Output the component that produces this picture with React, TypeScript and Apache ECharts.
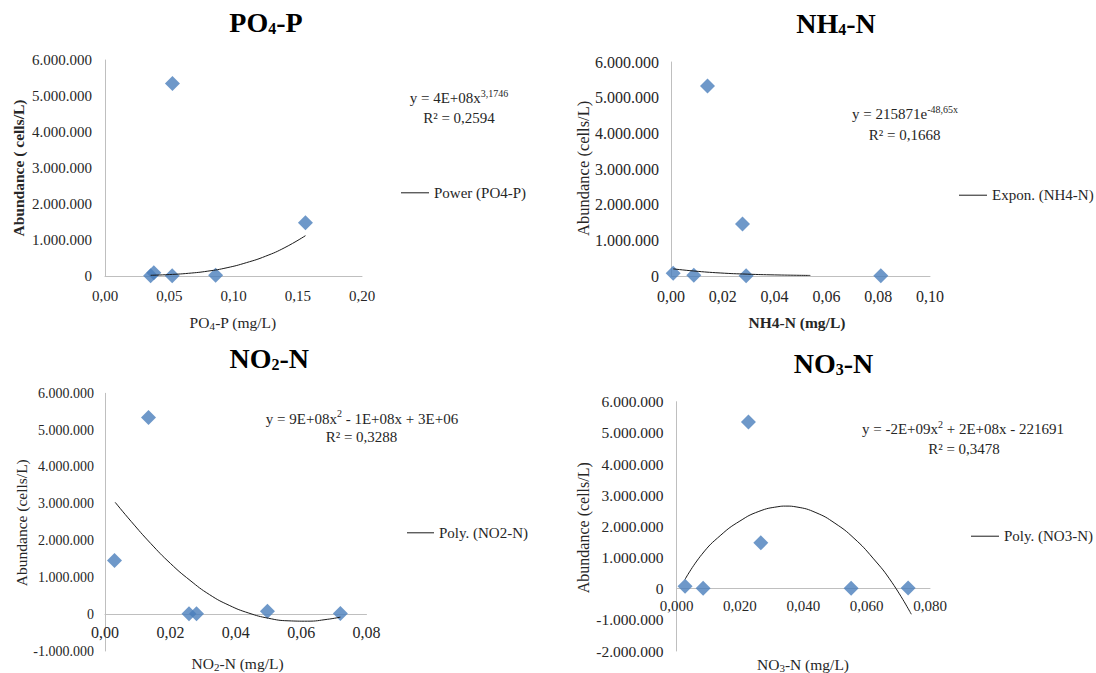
import React, { useEffect, useRef } from 'react';
import * as echarts from 'echarts';

const FONT = "'Liberation Serif', 'Times New Roman', serif";
const TEXT = '#262626';
const AXIS = '#bfbfbf';
const MARK = '#4a7ebb';
const TREND = '#1a1a1a';

// ---- PO4-P ----
const po4X = [0.0355, 0.038, 0.0525, 0.0523, 0.0861, 0.156];
const po4Y = [10000, 90000, 5350000, 10000, 20000, 1480000];
const po4TrendX = [0.0355, 0.05, 0.065, 0.08, 0.095, 0.11, 0.125, 0.14, 0.156];
const po4TrendY = [20000, 40000, 75000, 135000, 230000, 370000, 550000, 790000, 1120000];

// ---- NH4-N ----
const nh4X = [0.00085, 0.0088, 0.0141, 0.0276, 0.029, 0.081];
const nh4Y = [80000, 20000, 5330000, 1460000, 10000, 10000];
const nh4TrendX = [0.00085, 0.0088, 0.019, 0.0294, 0.04, 0.0538];
const nh4TrendY = [200000, 140000, 85000, 52000, 31000, 16000];

// ---- NO2-N ----
const no2X = [0.0029, 0.0133, 0.0257, 0.028, 0.0497, 0.072];
const no2Y = [1460000, 5340000, 10000, 10000, 80000, 20000];
const no2TrendX = [0.0031, 0.008, 0.014, 0.02, 0.026, 0.032, 0.038, 0.044, 0.05, 0.056, 0.062, 0.068, 0.072];
const no2TrendY = [3040000, 2520000, 1920000, 1380000, 920000, 530000, 240000, 30000, -110000, -180000, -190000, -140000, -80000];

// ---- NO3-N ----
const no3X = [0.0027, 0.0084, 0.0227, 0.0266, 0.0551, 0.0731];
const no3Y = [80000, 10000, 5350000, 1470000, 10000, 20000];
const no3TrendX = [0.0027, 0.008, 0.014, 0.02, 0.026, 0.032, 0.0345, 0.038, 0.044, 0.05, 0.056, 0.062, 0.068, 0.0741];
const no3TrendY = [300000, 1100000, 1720000, 2170000, 2480000, 2630000, 2650000, 2620000, 2440000, 2100000, 1620000, 980000, 200000, -820000];

const seriesNames = ['PO4-P', 'NH4-N', 'NO2-N', 'NO3-N'];
const trendNames = ['Power (PO4-P)', 'Expon. (NH4-N)', 'Poly. (NO2-N)', 'Poly. (NO3-N)'];
const r2Labels = ['R² = 0,2594', 'R² = 0,1668', 'R² = 0,3288', 'R² = 0,3478'];

const fmtY = (v: number) => {
  const s = Math.round(Math.abs(v)).toString().replace(/\B(?=(\d{3})+(?!\d))/g, '.');
  return (v < 0 ? '-' : '') + s;
};
const fmtX = (d: number) => (v: number) => v.toFixed(d).replace('.', ',');

const pairs = (xs: number[], ys: number[]) => xs.map((x, i) => [x, ys[i]]);

function App() {
  const ref = useRef<HTMLDivElement>(null);

  useEffect(() => {
    const chart = echarts.init(ref.current!, null, { renderer: 'svg' });

    const panels = [
      {
        grid: { left: 105, top: 60, width: 257, height: 216 },
        xMax: 0.2, xInt: 0.05, xDec: 2, yMin: 0, yMax: 6000000,
        xs: po4X, ys: po4Y, tx: po4TrendX, ty: po4TrendY,
        yFs: 15, xFs: 15, yMargin: 13, xMargin: 12,
        legend: { left: 401, cy: 194.3, w: 28 },
      },
      {
        grid: { left: 671, top: 62, width: 259, height: 214 },
        xMax: 0.1, xInt: 0.02, xDec: 2, yMin: 0, yMax: 6000000,
        xs: nh4X, ys: nh4Y, tx: nh4TrendX, ty: nh4TrendY,
        yFs: 16, xFs: 16, yMargin: 12, xMargin: 12,
        legend: { left: 959, cy: 196.7, w: 28 },
      },
      {
        grid: { left: 105, top: 393.3, width: 261.5, height: 257.7 },
        xMax: 0.08, xInt: 0.02, xDec: 2, yMin: -1000000, yMax: 6000000,
        xs: no2X, ys: no2Y, tx: no2TrendX, ty: no2TrendY,
        yFs: 14, xFs: 16, yMargin: 11, xMargin: 10,
        legend: { left: 407, cy: 534.3, w: 27 },
      },
      {
        grid: { left: 676.5, top: 401.7, width: 253.5, height: 249.3 },
        xMax: 0.08, xInt: 0.02, xDec: 3, yMin: -2000000, yMax: 6000000,
        xs: no3X, ys: no3Y, tx: no3TrendX, ty: no3TrendY,
        yFs: 15.5, xFs: 15, yMargin: 13, xMargin: 10,
        legend: { left: 971, cy: 537.7, w: 28 },
      },
    ];

    const grid = panels.map((p) => ({ ...p.grid, containLabel: false }));
    const xAxis = panels.map((p, i) => ({
      gridIndex: i,
      type: 'value',
      min: 0,
      max: p.xMax,
      interval: p.xInt,
      // place the horizontal axis (line and labels) on the zero line
      offset: -(p.grid.height * (0 - p.yMin)) / (p.yMax - p.yMin),
      axisLine: { show: true, onZero: false, lineStyle: { color: AXIS, width: 1 } },
      axisTick: { show: false },
      splitLine: { show: false },
      axisLabel: { formatter: fmtX(p.xDec), fontSize: p.xFs, color: TEXT, fontFamily: FONT, margin: p.xMargin },
    }));
    const yAxis = panels.map((p, i) => ({
      gridIndex: i,
      type: 'value',
      min: p.yMin,
      max: p.yMax,
      interval: 1000000,
      axisLine: { show: true, onZero: false, lineStyle: { color: AXIS, width: 1 } },
      axisTick: { show: false },
      splitLine: { show: false },
      axisLabel: { formatter: fmtY, fontSize: p.yFs, color: TEXT, fontFamily: FONT, margin: p.yMargin },
    }));

    const series: any[] = [];
    panels.forEach((p, i) => {
      series.push({
        type: 'scatter',
        name: seriesNames[i],
        xAxisIndex: i,
        yAxisIndex: i,
        data: pairs(p.xs, p.ys),
        symbol: 'diamond',
        symbolSize: 15,
        itemStyle: { color: MARK },
        z: 2,
      });
      series.push({
        type: 'line',
        name: trendNames[i],
        xAxisIndex: i,
        yAxisIndex: i,
        data: pairs(p.tx, p.ty),
        smooth: true,
        symbol: 'none',
        showSymbol: false,
        lineStyle: { color: TREND, width: 1 },
        itemStyle: { color: TREND },
        z: 3,
      });
    });

    const legend = panels.map((p, i) => ({
      data: [trendNames[i]],
      left: p.legend.left,
      top: p.legend.cy - 9,
      padding: 0,
      icon: 'rect',
      itemWidth: p.legend.w,
      itemHeight: 1,
      selectedMode: false,
      textStyle: { fontSize: 15, fontFamily: FONT, color: TEXT },
    }));

    const part = (size: number, weight: string = 'normal', extra: any = {}) => ({
      fontSize: size,
      fontWeight: weight,
      fontFamily: FONT,
      fill: TEXT,
      ...extra,
    });

    const text = (x: number, y: number, t: string, rich: any, rotation = 0) => ({
      type: 'text',
      x,
      y,
      rotation,
      silent: true,
      style: { text: t, rich, align: 'center', verticalAlign: 'middle', fill: TEXT, fontFamily: FONT },
    });

    const titleRich = {
      b: { fontSize: 28, fontWeight: 'bold', fontFamily: FONT, fill: '#000' },
      s: { fontSize: 16, fontWeight: 'bold', fontFamily: FONT, fill: '#000', verticalAlign: 'bottom' },
    };
    const nameRich = {
      n: part(15.5, 'normal', { lineHeight: 18 }),
      s: part(11, 'normal', { verticalAlign: 'bottom', lineHeight: 14 }),
      nb: part(15.5, 'bold', { lineHeight: 18 }),
    };
    const eqRich = {
      m: part(15, 'normal', { lineHeight: 20 }),
      u: part(10, 'normal', { verticalAlign: 'top', lineHeight: 10 }),
    };
    const plainRich = (size: number, weight = 'normal') => ({ n: part(size, weight) });

    const graphic = [
      // titles
      text(266, 22.8, '{b|PO}{s|4}{b|-P}', titleRich),
      text(836, 23.7, '{b|NH}{s|4}{b|-N}', titleRich),
      text(269.3, 358.2, '{b|NO}{s|2}{b|-N}', titleRich),
      text(833.5, 363.5, '{b|NO}{s|3}{b|-N}', titleRich),
      // x axis names
      text(233, 322, '{n|PO}{s|4}{n|-P (mg/L)}', nameRich),
      text(797, 322, '{nb|NH4-N (mg/L)}', nameRich),
      text(237.6, 663.7, '{n|NO}{s|2}{n|-N (mg/L)}', nameRich),
      text(803, 664.3, '{n|NO}{s|3}{n|-N (mg/L)}', nameRich),
      // y axis names
      text(18.3, 168, '{n|Abundance ( cells/L)}', plainRich(15.5, 'bold'), Math.PI / 2),
      text(583, 168.3, '{n|Abundance (cells/L)}', plainRich(16.5), Math.PI / 2),
      text(21, 522.7, '{n|Abundance (cells/L)}', plainRich(15.5), Math.PI / 2),
      text(583, 527.7, '{n|Abundance (cells/L)}', plainRich(16), Math.PI / 2),
      // equations
      text(459, 98.3, '{m|y = 4E+08x}{u|3,1746}', eqRich),
      text(459, 118.3, '{m|' + r2Labels[0] + '}', eqRich),
      text(905, 114.3, '{m|y = 215871e}{u|-48,65x}', eqRich),
      text(904.6, 135, '{m|' + r2Labels[1] + '}', eqRich),
      text(362, 418.7, '{m|y = 9E+08x}{u|2}{m| - 1E+08x + 3E+06}', eqRich),
      text(361.5, 436.7, '{m|' + r2Labels[2] + '}', eqRich),
      text(963, 429.3, '{m|y = -2E+09x}{u|2}{m| + 2E+08x - 221691}', eqRich),
      text(964, 448.7, '{m|' + r2Labels[3] + '}', eqRich),
    ];

    chart.setOption({
      animation: false,
      backgroundColor: '#ffffff',
      textStyle: { fontFamily: FONT },
      grid,
      xAxis,
      yAxis,
      legend,
      series,
      graphic,
    });

    return () => chart.dispose();
  }, []);

  return (
    <div
      ref={ref}
      style={{ position: 'fixed', left: 0, top: 0, width: 1096, height: 673, background: '#fff' }}
    />
  );
}

export default App;
